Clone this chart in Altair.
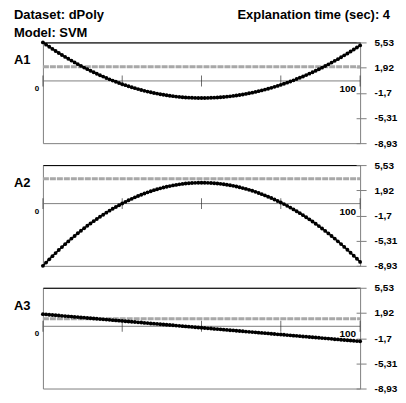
import altair as alt
import pandas as pd

DATASET = "Dataset: dPoly"
MODEL = "Model: SVM"
TIME_TEXT = "Explanation time (sec): 4"
PANELS = ["A1", "A2", "A3"]

X = list(range(101))

A1 = [5.53, 5.21, 4.90, 4.60, 4.30, 4.01, 3.73, 3.45, 3.18, 2.92,
      2.66, 2.41, 2.16, 1.92, 1.69, 1.46, 1.24, 1.03, 0.82, 0.62,
      0.42, 0.23, 0.05, -0.12, -0.29, -0.46, -0.61, -0.76, -0.91, -1.04,
      -1.17, -1.30, -1.42, -1.53, -1.63, -1.73, -1.82, -1.91, -1.99, -2.06,
      -2.13, -2.19, -2.25, -2.29, -2.34, -2.37, -2.40, -2.42, -2.44, -2.45,
      -2.45,
      -2.45, -2.44, -2.42, -2.40, -2.37, -2.34, -2.30, -2.26, -2.21, -2.15,
      -2.09, -2.02, -1.94, -1.86, -1.77, -1.68, -1.58, -1.47, -1.36, -1.24,
      -1.12, -0.99, -0.85, -0.71, -0.56, -0.41, -0.25, -0.08, 0.09, 0.27,
      0.45, 0.64, 0.84, 1.04, 1.25, 1.46, 1.68, 1.91, 2.14, 2.38,
      2.63, 2.88, 3.13, 3.40, 3.67, 3.94, 4.22, 4.51, 4.80, 5.10]

A2 = [-8.93, -8.46, -8.00, -7.54, -7.10, -6.66, -6.24, -5.82, -5.42, -5.02,
      -4.64, -4.26, -3.89, -3.53, -3.18, -2.85, -2.52, -2.20, -1.89, -1.59,
      -1.30, -1.01, -0.74, -0.48, -0.23, 0.02, 0.25, 0.48, 0.69, 0.90,
      1.09, 1.28, 1.45, 1.62, 1.78, 1.93, 2.06, 2.19, 2.31, 2.42,
      2.52, 2.61, 2.69, 2.77, 2.83, 2.88, 2.92, 2.96, 2.98, 3.00,
      3.00,
      3.00, 2.98, 2.96, 2.93, 2.89, 2.84, 2.78, 2.71, 2.63, 2.55,
      2.45, 2.35, 2.23, 2.11, 1.98, 1.84, 1.69, 1.53, 1.36, 1.18,
      0.99, 0.80, 0.59, 0.38, 0.16, -0.07, -0.32, -0.57, -0.83, -1.09,
      -1.37, -1.66, -1.95, -2.26, -2.57, -2.89, -3.23, -3.57, -3.92, -4.28,
      -4.65, -5.02, -5.41, -5.81, -6.21, -6.62, -7.05, -7.48, -7.92, -8.37]

A3 = [1.74, 1.71, 1.66, 1.63, 1.59, 1.55, 1.50, 1.47, 1.43, 1.39,
      1.35, 1.32, 1.27, 1.24, 1.19, 1.16, 1.12, 1.08, 1.04, 1.00,
      0.96, 0.93, 0.88, 0.85, 0.81, 0.77, 0.73, 0.69, 0.65, 0.61,
      0.57, 0.54, 0.49, 0.46, 0.41, 0.38, 0.34, 0.30, 0.26, 0.22,
      0.18, 0.15, 0.10, 0.07, 0.02, -0.01, -0.05, -0.09, -0.13, -0.17,
      -0.21, -0.24, -0.29, -0.32, -0.37, -0.40, -0.44, -0.48, -0.52, -0.56,
      -0.59, -0.63, -0.68, -0.71, -0.76, -0.79, -0.83, -0.87, -0.91, -0.95,
      -0.98, -1.02, -1.07, -1.10, -1.15, -1.18, -1.22, -1.26, -1.30, -1.34,
      -1.37, -1.41, -1.46, -1.49, -1.54, -1.57, -1.61, -1.65, -1.69, -1.73,
      -1.76, -1.80, -1.85, -1.88, -1.93, -1.96, -2.00, -2.04, -2.08, -2.12,
      -2.15]

GRAY_LEVELS = [2.05, 3.56, 1.10]

Y_TICKS = [5.53, 1.92, -1.7, -5.31, -8.93]
Y_TICK_LABELS = ["5,53", "1,92", "-1,7", "-5,31", "-8,93"]
X_TICKS = [0, 25, 50, 75, 100]
X_END_VALUES = [0, 100]
X_END_LABELS = ["0", "100"]

FONT = "Liberation Sans"
W, H = 318, 101
LEFT_TXT = -29

label_expr = " : ".join(
    f"datum.value == {v} ? '{l}'" for v, l in zip(Y_TICKS, Y_TICK_LABELS)
) + " : ''"

xs = alt.Scale(domain=[0, 100], nice=False, zero=False)
ys = alt.Scale(domain=[-8.93, 5.53], nice=False, zero=False)
xenc = alt.X("x:Q", scale=xs,
             axis=alt.Axis(orient="top", domainColor="black", domainWidth=1,
                           ticks=False, labels=False, title=None, grid=False))
yenc = alt.Y("y:Q", scale=ys,
             axis=alt.Axis(orient="right", values=Y_TICKS, labelExpr=label_expr,
                           offset=-4, domain=False, tickSize=10, tickColor="#808080",
                           labelPadding=8, grid=False, title=None, labelFont=FONT,
                           labelFontSize=10, labelFontWeight="bold", labelColor="black"))


def text_layer(txt, x, y, size=13, align="left"):
    return alt.Chart(pd.DataFrame({"t": [txt]})).mark_text(
        font=FONT, fontSize=size, fontWeight="bold", align=align,
        baseline="middle", color="black").encode(
        x=alt.value(x), y=alt.value(y), text="t:N")


def panel(i, name, values):
    df = pd.DataFrame({"x": X, "y": values})
    gray_df = pd.DataFrame({"x": [0, 100], "y": [GRAY_LEVELS[i]] * 2})
    zero_df = pd.DataFrame({"x": [0, 100], "y": [0, 0]})
    tick_df = pd.DataFrame({"x": X_TICKS, "y": [0] * len(X_TICKS)})
    lab_df = pd.DataFrame({"x": X_END_VALUES, "y": [0, 0], "t": X_END_LABELS})

    layers = [
        alt.Chart(zero_df).mark_line(color="#808080", strokeWidth=1).encode(x=xenc, y=yenc),
        alt.Chart(tick_df).mark_tick(color="#333333", orient="vertical", size=11,
                                     thickness=1).encode(x=xenc, y=yenc),
        alt.Chart(lab_df.iloc[[0]]).mark_text(font=FONT, fontSize=8, fontWeight="bold",
                                              align="center", baseline="middle",
                                              dx=-6, dy=8, color="black").encode(
            x=xenc, y=yenc, text="t:N"),
        alt.Chart(lab_df.iloc[[1]]).mark_text(font=FONT, fontSize=10, fontWeight="bold",
                                              align="right", baseline="middle",
                                              dx=-4, dy=8, color="black").encode(
            x=xenc, y=yenc, text="t:N"),
        alt.Chart(gray_df).mark_line(color="#a8a8a8", strokeWidth=3,
                                     strokeDash=[6, 1]).encode(x=xenc, y=yenc),
        alt.Chart(df).mark_line(color="black", strokeWidth=1.6).encode(x=xenc, y=yenc),
        alt.Chart(df).mark_circle(color="black", size=15, opacity=1).encode(x=xenc, y=yenc),
        text_layer(name, LEFT_TXT, 18),
    ]
    if i == 0:
        layers += [
            text_layer(DATASET, LEFT_TXT, -27),
            text_layer(MODEL, LEFT_TXT, -9),
            text_layer(TIME_TEXT, W + 30, -27, align="right"),
        ]
    return alt.layer(*layers).properties(width=W, height=H)


chart = alt.vconcat(
    panel(0, PANELS[0], A1),
    panel(1, PANELS[1], A2),
    panel(2, PANELS[2], A3),
    spacing=10,
).properties(
    padding={"left": 5, "top": 0, "right": 0, "bottom": 0}
).configure_view(stroke="#808080", strokeWidth=1)

chart.save("out.html", embed_options={"renderer": "svg", "actions": False})
